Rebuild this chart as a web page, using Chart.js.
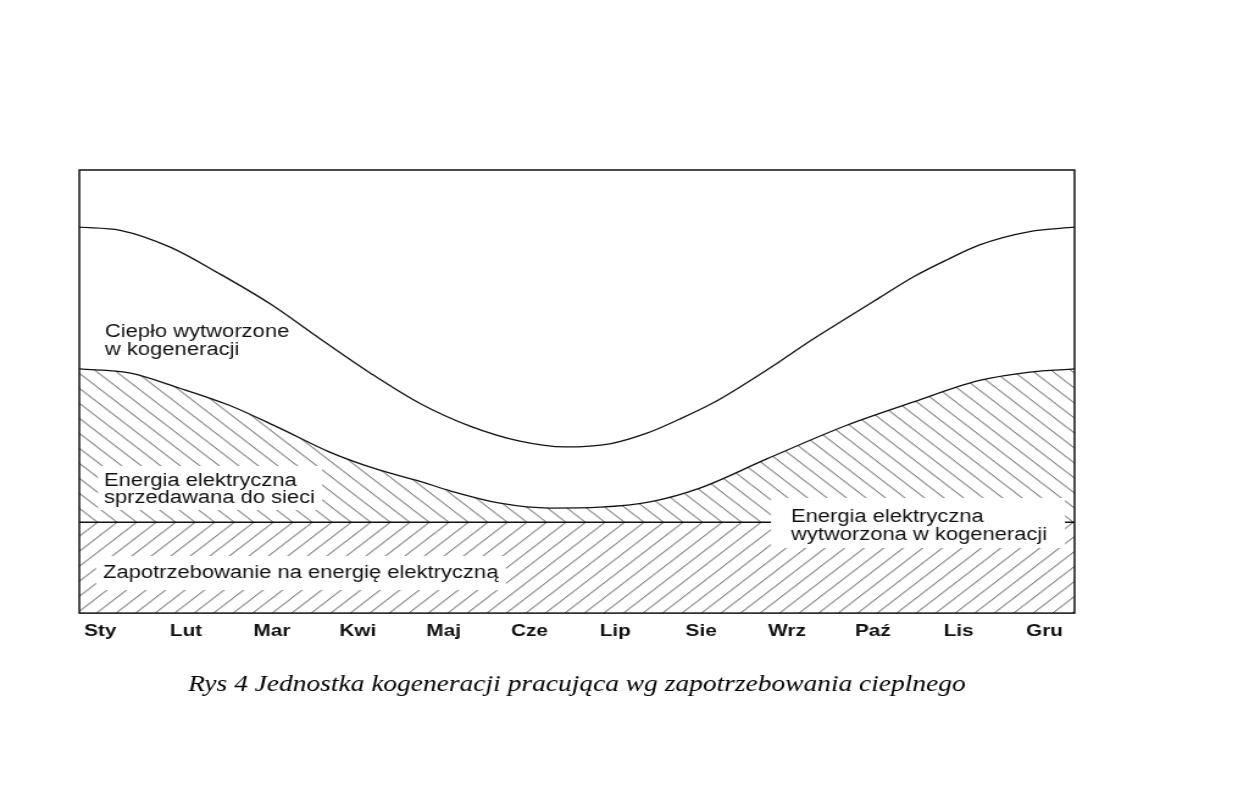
<!DOCTYPE html>
<html>
<head>
<meta charset="utf-8">
<script src="https://cdn.jsdelivr.net/npm/chart.js@4"></script>
<style>
  html, body { margin: 0; padding: 0; background: #fff; overflow: hidden; }
  /* the scan is stretched sideways, so the whole chart is too */
  #chart { transform: scaleX(1.2197); transform-origin: 0 0; display: block; }
</style>
</head>
<body>
<canvas id="chart" width="1015" height="809"></canvas>
<script>
// Month labels (x axis ticks 0..11)
const months = ['Sty', 'Lut', 'Mar', 'Kwi', 'Maj', 'Cze', 'Lip', 'Sie', 'Wrz', 'Paź', 'Lis', 'Gru'];

// Heat produced in cogeneration (top curve)
const heatX = [-0.244, 0.233, 0.815, 1.397, 1.979, 2.561, 3.143, 3.725, 4.307, 4.889, 5.413, 5.937, 6.368,
               6.752, 7.136, 7.532, 7.916, 8.300, 8.696, 9.080, 9.465, 9.860, 10.244, 10.827, 11.350];
const heatY = [87.1, 86.4, 82.6, 76.5, 69.8, 61.9, 54.2, 47.3, 42.2, 38.8, 37.5, 38.2, 40.6,
               43.8, 47.4, 52.0, 56.8, 61.8, 66.6, 71.2, 75.8, 79.7, 83.1, 86.1, 87.1];

// Electricity produced in cogeneration (middle curve)
const elecX = [-0.244, 0.338, 0.920, 1.502, 2.084, 2.666, 3.248, 3.714, 4.075, 4.657, 5.239, 5.821,
               6.403, 6.985, 7.765, 8.696, 9.465, 10.244, 10.827, 11.350];
const elecY = [55.1, 54.2, 50.8, 46.9, 41.8, 36.4, 32.3, 29.8, 27.6, 24.8, 23.7, 23.9,
               25.1, 28.2, 34.8, 42.4, 47.6, 52.5, 54.4, 55.1];

// Electricity demand (flat)
const demandX = [-0.244, 11.350];
const demandY = [20.5, 20.5];

const caption = 'Rys 4 Jednostka kogeneracji pracująca wg zapotrzebowania cieplnego';

const S = 1238 / 1015;   // horizontal stretch of the scan
const rx = px => px / S;

function toPoints(xs, ys) {
    return xs.map((x, i) => ({ x: x, y: ys[i] }));
}

// diagonal hatch pattern: dir 1 = '/', dir -1 = '\'
function hatch(dir) {
    const w = 16, h = 15;
    const c = document.createElement('canvas');
    c.width = w; c.height = h;
    const g = c.getContext('2d');
    g.strokeStyle = '#4a4a4a';
    g.lineWidth = 1;
    g.beginPath();
    for (const dx of [-w, 0, w]) {
        if (dir > 0) { g.moveTo(dx, h); g.lineTo(dx + w, 0); }
        else { g.moveTo(dx, 0); g.lineTo(dx + w, h); }
    }
    g.stroke();
    return g.createPattern(c, 'repeat');
}
const slashPattern = hatch(1);
const backPattern = hatch(-1);

// text inside the plot, positions in picture pixels
const notes = [
    { lines: ['Ciepło wytworzone', 'w kogeneracji'], x: 105, y: [337, 355] },
    { lines: ['Energia elektryczna', 'sprzedawana do sieci'], x: 104, y: [486, 503], box: [98, 466, 322, 510] },
    { lines: ['Zapotrzebowanie na energię elektryczną'], x: 103, y: [578], box: [96, 556, 506, 590] },
    { lines: ['Energia elektryczna', 'wytworzona w kogeneracji'], x: 791, y: [522, 540], box: [771, 498, 1065, 548] }
];

const notesPlugin = {
    id: 'notes',
    beforeDatasetsDraw(chart) {
        // line the two hatches up so they meet on the demand line
        const yLine = chart.scales.y.getPixelForValue(demandY[0]);
        const m = new DOMMatrix().translate(0, yLine);
        slashPattern.setTransform(m);
        backPattern.setTransform(m);
    },
    afterDatasetsDraw(chart) {
        const ctx = chart.ctx;
        const a = chart.chartArea;
        ctx.save();
        ctx.strokeStyle = '#111';
        ctx.lineWidth = 1.5;
        ctx.strokeRect(a.left, a.top, a.right - a.left, a.bottom - a.top);

        ctx.font = '18px "Liberation Sans", Arial, sans-serif';
        ctx.textBaseline = 'alphabetic';
        ctx.textAlign = 'left';
        notes.forEach(n => {
            if (n.box) {
                ctx.fillStyle = '#fff';
                ctx.fillRect(rx(n.box[0]), n.box[1], rx(n.box[2]) - rx(n.box[0]), n.box[3] - n.box[1]);
            }
            ctx.fillStyle = '#111';
            n.lines.forEach((t, i) => ctx.fillText(t, rx(n.x), n.y[i]));
        });
        ctx.restore();
    }
};

new Chart(document.getElementById('chart'), {
    type: 'line',
    data: {
        datasets: [
            {
                label: 'Zapotrzebowanie na energię elektryczną',
                data: toPoints(demandX, demandY),
                borderColor: '#111',
                borderWidth: 1.3,
                backgroundColor: slashPattern,
                fill: 'origin',
                pointRadius: 0
            },
            {
                label: 'Energia elektryczna wytworzona w kogeneracji',
                data: toPoints(elecX, elecY),
                borderColor: '#111',
                borderWidth: 1.3,
                backgroundColor: backPattern,
                fill: { value: demandY[0] },
                cubicInterpolationMode: 'monotone',
                pointRadius: 0
            },
            {
                label: 'Ciepło wytworzone w kogeneracji',
                data: toPoints(heatX, heatY),
                borderColor: '#111',
                borderWidth: 1.3,
                fill: false,
                cubicInterpolationMode: 'monotone',
                pointRadius: 0
            }
        ]
    },
    options: {
        responsive: false,
        animation: false,
        layout: { padding: { left: 65, right: 134, top: 170, bottom: 100 } },
        plugins: {
            legend: { display: false },
            tooltip: { enabled: false },
            title: {
                display: true,
                position: 'bottom',
                text: caption,
                color: '#000',
                font: { family: '"Liberation Serif", "Times New Roman", serif', size: 22.5, style: 'italic', weight: 'normal' },
                padding: { top: 22, bottom: 10.5 }
            }
        },
        scales: {
            x: {
                type: 'linear',
                min: heatX[0],
                max: heatX[heatX.length - 1],
                grid: { display: false, drawTicks: false },
                border: { display: false },
                ticks: {
                    stepSize: 1,
                    includeBounds: false,
                    autoSkip: false,
                    maxRotation: 0,
                    padding: 8,
                    color: '#111',
                    font: { family: '"Liberation Sans", Arial, sans-serif', size: 17, weight: 'bold' },
                    callback: v => months[Math.round(v)] ?? ''
                }
            },
            y: { display: false, min: 0, max: 100 }
        }
    },
    plugins: [notesPlugin]
});
</script>
</body>
</html>
